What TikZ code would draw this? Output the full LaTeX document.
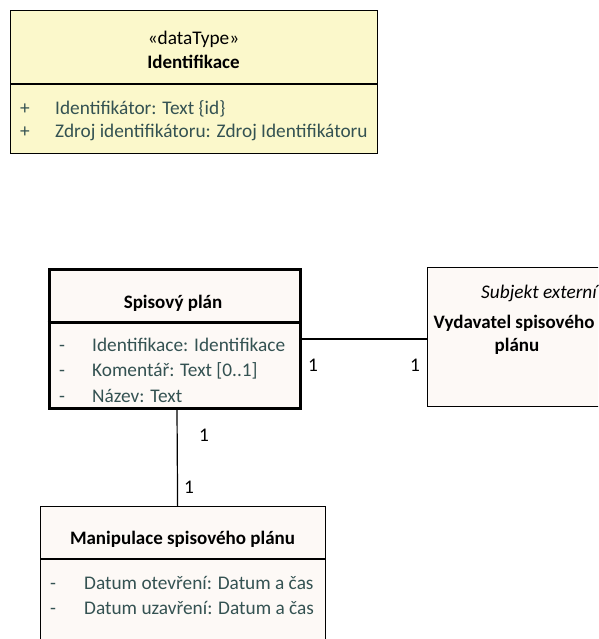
\documentclass[tikz,border=0pt]{standalone}
\usepackage{fontspec}
\setmainfont{Carlito}

\definecolor{tipofundo}{RGB}{251,248,203}
\definecolor{classefundo}{RGB}{253,249,246}
\definecolor{atributo}{RGB}{52,82,82}

\newcommand{\fonteuml}{\fontsize{19.3}{22}\selectfont}
\newcommand{\fontenome}{\fontsize{19}{22}\selectfont\bfseries}

\tikzset{
  caixa/.style={draw, rectangle, inner sep=0pt, anchor=north west, line width=1.2pt},
  texto/.style={inner sep=0pt, text height=15pt, text depth=2pt, font=\fonteuml},
  titulo/.style={texto, font=\fontenome},
  marca/.style={texto, text=atributo},
  atrib/.style={texto, anchor=west, text=atributo},
  mult/.style={texto},
}

\begin{document}
\begin{tikzpicture}[x=1pt, y=-1pt]

    % 0. Moldura da figura (as caixas da direita e de baixo saem dela)
    \useasboundingbox (0,0) rectangle (598,639);
    \clip (0,0) rectangle (598,639);

    % 1. Tipo de dados Identifikace (caixa amarela)
    \node[caixa, fill=tipofundo, minimum width=367pt, minimum height=143pt] (ident) at (10,10) {};
    \draw[line width=1.2pt] (ident.north west) ++(0,74) -- ++(367,0);
    \node[texto] (identstereo) at (193.5,38) {«dataType»};
    \node[titulo] (identnome) at (193.5,62) {Identifikace};
    \node[marca] (identm1) at (25,108) {+};
    \node[atrib] (identa1) at (55,108) {Identifikátor: Text \{id\}};
    \node[marca] (identm2) at (25,131) {+};
    \node[atrib] (identa2) at (55,131) {Zdroj identifikátoru: Zdroj Identifikátoru};

    % 2. Classe Spisový plán (borda grossa)
    \node[caixa, fill=classefundo, line width=3pt, minimum width=251pt, minimum height=139pt] (plan) at (47.5,268) {};
    \draw[line width=3pt] (plan.north west) ++(0,54) -- ++(251,0);
    \node[titulo] (plannome) at (173,302) {Spisový plán};
    \node[marca] (planm1) at (62,345) {-};
    \node[atrib] (plana1) at (92,345) {Identifikace: Identifikace};
    \node[marca] (planm2) at (62,370) {-};
    \node[atrib] (plana2) at (92,370) {Komentář: Text [0..1]};
    \node[marca] (planm3) at (62,396) {-};
    \node[atrib] (plana3) at (92,396) {Název: Text};

    % 3. Classe externa Vydavatel spisového plánu (cortada pela borda direita)
    \node[caixa, fill=classefundo, minimum width=180pt, minimum height=139pt] (vyd) at (427,267) {};
    \node[texto, anchor=west, font=\fonteuml\itshape] (vydpacote) at (481,292) {Subjekt externí};
    \node[titulo] (vydnome1) at (514,322) {Vydavatel spisového};
    \node[titulo] (vydnome2) at (517,345) {plánu};

    % 4. Classe Manipulace spisového plánu (cortada pela borda de baixo)
    \node[caixa, fill=classefundo, minimum width=285pt, minimum height=160pt] (manip) at (40,506) {};
    \draw[line width=1.2pt] (manip.north west) ++(0,53) -- ++(285,0);
    \node[titulo] (manipnome) at (182.5,538) {Manipulace spisového plánu};
    \node[marca] (manipm1) at (53,583) {-};
    \node[atrib] (manipa1) at (84,583) {Datum otevření: Datum a čas};
    \node[marca] (manipm2) at (53,608) {-};
    \node[atrib] (manipa2) at (84,608) {Datum uzavření: Datum a čas};

    % 5. Associações e multiplicidades
    \draw[line width=1.2pt] (plan.east) -- (vyd.west |- plan.east);
    \draw[line width=1.2pt] ([xshift=2.5pt]plan.south) -- ([xshift=-5.5pt]manip.north);
    \node[mult] (m1) at (313,365) {1};
    \node[mult] (m2) at (415,365) {1};
    \node[mult] (m3) at (204,435) {1};
    \node[mult] (m4) at (189,487) {1};

\end{tikzpicture}
\end{document}
